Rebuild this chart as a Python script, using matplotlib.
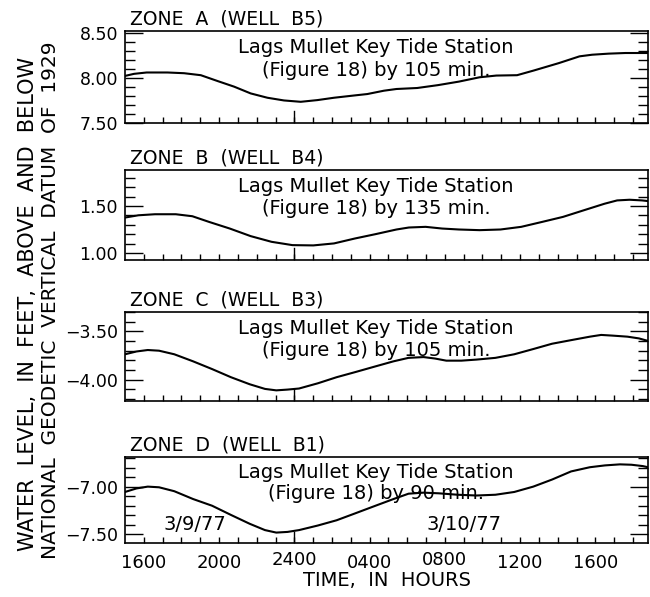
import numpy as np
import matplotlib.pyplot as plt
from matplotlib.ticker import MultipleLocator, FuncFormatter
from matplotlib.transforms import ScaledTranslation

plt.rcParams['font.family'] = ['DejaVu Sans']

# time axis: hours counted from 0000 on 3/9/77 (24 = midnight, 40 = 1600 on 3/10/77)
zone_a_hours = [15.0, 15.48, 16.15, 17.26, 18.14, 19.03, 19.91, 20.80, 21.68, 22.57, 23.45,
                24.34, 25.23, 26.11, 27.22, 27.88, 28.76, 29.43, 30.53, 31.64, 32.75, 33.85,
                34.74, 35.84, 36.73, 38.06, 39.16, 39.83, 40.71, 41.60, 42.8]
zone_a_level = [8.022, 8.045, 8.06, 8.06, 8.052, 8.03, 7.966, 7.903, 7.828, 7.78, 7.75,
                7.735, 7.754, 7.78, 7.806, 7.821, 7.858, 7.877, 7.888, 7.92, 7.959, 8.007,
                8.026, 8.03, 8.082, 8.164, 8.239, 8.257, 8.269, 8.276, 8.276]

zone_b_hours = [15.0, 15.71, 16.59, 17.70, 18.58, 19.47, 20.57, 21.68, 22.79, 23.90, 25.01,
                26.11, 27.22, 28.32, 29.43, 30.09, 30.98, 31.86, 32.75, 33.85, 34.96, 36.06,
                37.17, 38.28, 39.39, 40.49, 41.16, 41.82, 42.48, 42.8]
zone_b_level = [1.378, 1.402, 1.413, 1.413, 1.392, 1.332, 1.262, 1.182, 1.122, 1.087, 1.084,
                1.105, 1.157, 1.203, 1.252, 1.273, 1.28, 1.262, 1.252, 1.245, 1.252, 1.28,
                1.332, 1.385, 1.455, 1.524, 1.559, 1.566, 1.559, 1.552]

zone_c_hours = [15.0, 15.61, 16.21, 16.81, 17.62, 18.62, 19.63, 20.63, 21.63, 22.44, 23.04,
                23.64, 24.25, 25.25, 26.25, 27.26, 28.26, 29.27, 30.07, 30.87, 31.48, 32.08,
                32.88, 33.68, 34.69, 35.69, 36.70, 37.70, 38.71, 39.71, 40.31, 40.91, 41.71,
                42.32, 42.8]
zone_c_level = [-3.737, -3.708, -3.693, -3.70, -3.737, -3.81, -3.89, -3.974, -4.047, -4.095,
                -4.11, -4.102, -4.091, -4.037, -3.974, -3.92, -3.865, -3.81, -3.774, -3.766,
                -3.781, -3.803, -3.803, -3.792, -3.774, -3.737, -3.683, -3.628, -3.591,
                -3.555, -3.537, -3.544, -3.555, -3.573, -3.599]

zone_d_hours = [15.0, 15.61, 16.21, 16.81, 17.62, 18.62, 19.63, 20.63, 21.63, 22.44, 23.04,
                23.64, 24.25, 25.25, 26.25, 27.26, 28.26, 29.27, 30.07, 30.87, 31.68, 32.68,
                33.68, 34.69, 35.69, 36.70, 37.70, 38.71, 39.71, 40.51, 41.31, 41.92, 42.52,
                42.8]
zone_d_level = [-7.056, -7.019, -7.0, -7.007, -7.048, -7.13, -7.20, -7.296, -7.389, -7.455,
                -7.481, -7.474, -7.455, -7.407, -7.352, -7.278, -7.204, -7.13, -7.074, -7.063,
                -7.07, -7.085, -7.093, -7.085, -7.056, -7.0, -6.926, -6.841, -6.797, -6.778,
                -6.767, -6.771, -6.785, -6.797]

zones = [
    ('ZONE  A  (WELL  B5)', zone_a_hours, zone_a_level, (7.50, 8.52), '105'),
    ('ZONE  B  (WELL  B4)', zone_b_hours, zone_b_level, (0.93, 1.88), '135'),
    ('ZONE  C  (WELL  B3)', zone_c_hours, zone_c_level, (-4.22, -3.30), '105'),
    ('ZONE  D  (WELL  B1)', zone_d_hours, zone_d_level, (-7.59, -6.69), '90'),
]

time_ticks = [16, 20, 24, 28, 32, 36, 40]
time_labels = ['1600', '2000', '2400', '0400', '0800', '1200', '1600']
hour_ticks = list(range(16, 43))

# panel boxes in pixels (top, bottom)
W, H = 650, 597
boxes = [(31, 123), (170, 260), (312, 401), (457, 543)]
left_px, right_px = 125, 648

level_fmt = FuncFormatter(lambda v, pos: ('%.2f' % v).replace('-', '\u2212'))

fig = plt.figure(figsize=(W / 100, H / 100), dpi=100)

axes = []
for (title, hrs, lvl, ylim, lag), (top, bot) in zip(zones, boxes):
    ax = fig.add_axes([left_px / W, (H - bot) / H, (right_px - left_px) / W, (bot - top) / H])
    ax.plot(hrs, lvl, color='black', lw=1.5, solid_capstyle='round', solid_joinstyle='round')
    ax.set_xlim(15, 42.8)
    ax.set_ylim(*ylim)

    ax.yaxis.set_major_locator(MultipleLocator(0.5))
    ax.yaxis.set_minor_locator(MultipleLocator(0.1))
    ax.yaxis.set_major_formatter(level_fmt)
    ax.tick_params(axis='y', which='both', direction='in', left=True, right=True,
                   width=1.0, labelsize=12.5, pad=5)
    ax.tick_params(axis='y', which='major', length=13)
    ax.tick_params(axis='y', which='minor', length=7)

    ax.set_xticks(hour_ticks, minor=True)
    ax.set_xticks(time_ticks)
    ax.set_xticklabels([])
    ax.tick_params(axis='x', which='both', direction='in', length=4.5, width=1.0,
                   top=False, bottom=True)
    # longer mark at midnight
    ax.plot([24, 24], [0, 0.13], color='black', lw=1.0, transform=ax.get_xaxis_transform())

    for s in ax.spines.values():
        s.set_linewidth(1.2)

    ax.text(0.01, 1.03, title, transform=ax.transAxes, ha='left', va='bottom', fontsize=13.5)
    ax.text(0.48, 0.82, 'Lags Mullet Key Tide Station', transform=ax.transAxes,
            ha='center', va='center', fontsize=14)
    ax.text(0.48, 0.57, '(Figure 18) by %s min.' % lag, transform=ax.transAxes,
            ha='center', va='center', fontsize=14)
    axes.append(ax)

bottom_ax = axes[-1]
bottom_ax.set_xticklabels(time_labels)
bottom_ax.tick_params(axis='x', which='major', labelsize=13, pad=8)
# 2400 and 0800 sit a little higher
for i, lab in enumerate(bottom_ax.get_xticklabels()):
    if time_labels[i] in ('2400', '0800'):
        lab.set_transform(lab.get_transform() + ScaledTranslation(0, 3 / 100, fig.dpi_scale_trans))

bottom_ax.text(18.7, 0.22, '3/9/77', transform=bottom_ax.get_xaxis_transform(),
               ha='center', va='center', fontsize=14)
bottom_ax.text(33.0, 0.22, '3/10/77', transform=bottom_ax.get_xaxis_transform(),
               ha='center', va='center', fontsize=14)

fig.text(387 / W, 1 - 580 / H, 'TIME,  IN  HOURS', ha='center', va='center', fontsize=14)
fig.text(28 / W, 1 - 304 / H, 'WATER  LEVEL,  IN  FEET,  ABOVE  AND  BELOW',
         rotation=90, ha='center', va='center', fontsize=15)
fig.text(51 / W, 1 - 300 / H, 'NATIONAL  GEODETIC  VERTICAL  DATUM  OF  1929',
         rotation=90, ha='center', va='center', fontsize=14.5)

fig.savefig('out.png', dpi=100, facecolor='white')
